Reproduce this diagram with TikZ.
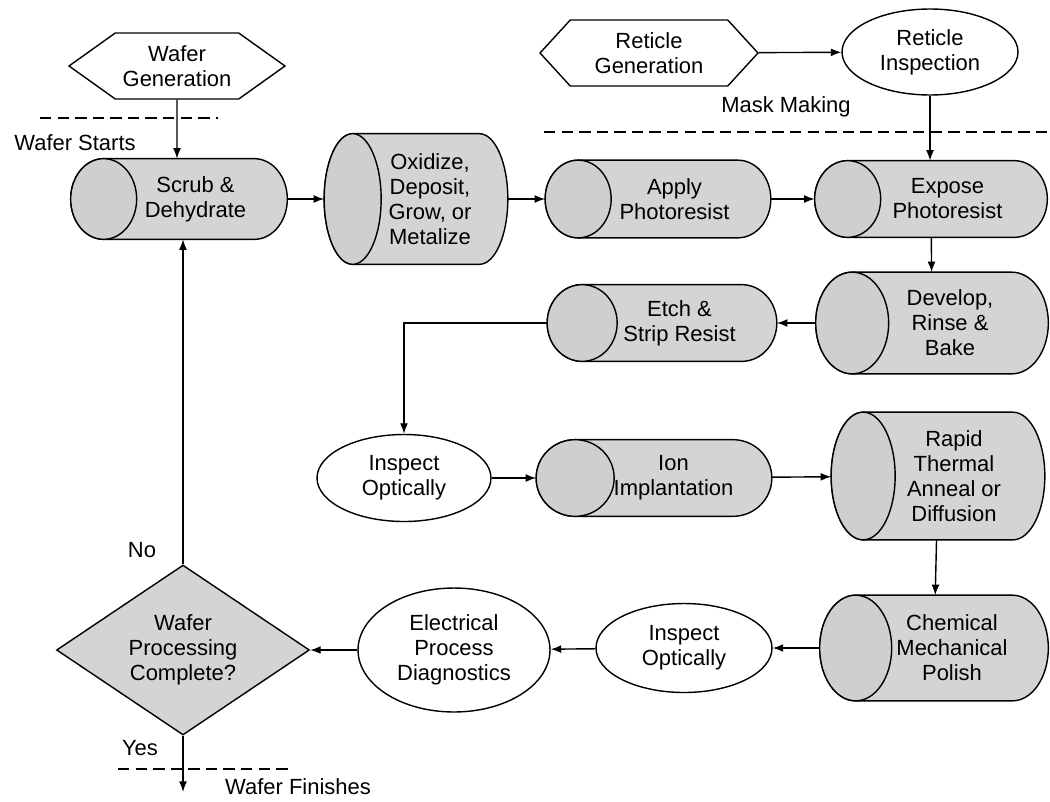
\documentclass[tikz,border=0pt]{standalone}
\usepackage{fontspec}
\setmainfont{Liberation Sans}
\usetikzlibrary{arrows.meta, positioning, shapes.geometric, shapes.symbols,
  calc, backgrounds}
\definecolor{procgray}{HTML}{D4D4D4}
\definecolor{endgray}{HTML}{CFCFCF}

\begin{document}
\begin{tikzpicture}[x=0.02cm, y=-0.02cm,
    font=\fontsize{12.5}{14.2}\selectfont,
    every node/.style={align=center, inner sep=0pt},
    tube/.style={rectangle},
    tubeline/.style={draw, line width=0.8pt, fill=procgray},
    tubetext/.style={align=center, xshift=#1},
    hexa/.style={signal, signal to=west and east, signal pointer angle=#1,
      draw, line width=0.8pt, fill=white},
    oval/.style={ellipse, draw, line width=0.8pt, fill=white},
    flow/.style={-{Latex[length=6pt,width=4.5pt]}, line width=0.8pt},
    divider/.style={line width=0.8pt, dash pattern=on 6.5pt off 3.5pt}]
  \useasboundingbox (0,0) rectangle (1050,801);
  % Sources
  \node[hexa=71, minimum width=4.32cm, minimum height=1.32cm] (wgen) at (177,66)
        {Wafer\\Generation};
  \node[hexa=95, minimum width=4.36cm, minimum height=1.32cm] (rgen) at (649,53)
        {Reticle\\Generation};
  \node[oval, minimum width=3.52cm, minimum height=1.72cm] (rinsp) at (930,52)
        {Reticle\\Inspection};
  % Process steps (tube outlines are drawn below)
  \node[tube, minimum width=4.32cm, minimum height=1.6cm,
        label={[tubetext=0.33cm]center:Scrub \&\\Dehydrate}] (scrub) at (179,199) {};
  \node[tube, minimum width=3.66cm, minimum height=2.6cm,
        label={[tubetext=0.28cm]center:{Oxidize,\\Deposit,\\Grow, or\\Metalize}}]
        (oxid) at (416,199) {};
  \node[tube, minimum width=4.5cm, minimum height=1.54cm,
        label={[tubetext=0.33cm]center:Apply\\Photoresist}] (apply) at (658,199) {};
  \node[tube, minimum width=4.64cm, minimum height=1.52cm,
        label={[tubetext=0.33cm]center:Expose\\Photoresist}] (expose) at (931,199) {};
  \node[tube, minimum width=4.64cm, minimum height=2.02cm,
        label={[tubetext=0.36cm]center:{Develop,\\Rinse \&\\Bake}}] (develop) at (932,323) {};
  \node[tube, minimum width=4.58cm, minimum height=1.52cm,
        label={[tubetext=0.35cm]center:Etch \&\\Strip Resist}] (etch) at (662,323) {};
  \node[oval, minimum width=3.48cm, minimum height=1.74cm] (insp1) at (404,478)
        {Inspect\\Optically};
  \node[tube, minimum width=4.7cm, minimum height=1.52cm,
        label={[tubetext=0.39cm]center:Ion\\Implantation}] (ion) at (654,478) {};
  \node[tube, minimum width=4.26cm, minimum height=2.54cm,
        label={[tubetext=0.32cm]center:Rapid\\Thermal\\Anneal or\\Diffusion}]
        (rapid) at (938,476) {};
  \node[tube, minimum width=4.56cm, minimum height=2.1cm,
        label={[tubetext=0.36cm]center:Chemical\\Mechanical\\Polish}] (chem) at (934,648) {};
  \node[oval, minimum width=3.52cm, minimum height=1.78cm] (insp2) at (684,648)
        {Inspect\\Optically};
  \node[oval, minimum width=3.84cm, minimum height=2.48cm] (elec) at (454,650)
        {Electrical\\Process\\Diagnostics};
  \node[diamond, draw, line width=0.8pt, fill=procgray, aspect=1.49,
        minimum width=5.06cm, minimum height=3.4cm] (done) at (183,650)
        {Wafer\\Processing\\Complete?};
  \coordinate (out) at (183,792);
  \begin{scope}[on background layer]
    \foreach \tb/\rr in {scrub/0.66cm, oxid/0.57cm, apply/0.66cm, expose/0.66cm,
                         develop/0.73cm, etch/0.7cm, ion/0.78cm, rapid/0.64cm,
                         chem/0.72cm} {
      \path[tubeline] let \p1=(\tb.north west), \p2=(\tb.south east),
                          \n1={0.5*(\y1-\y2)} in
        (\x1+\rr,\y1) -- (\x2-\rr,\y1)
        arc[start angle=90, end angle=-90, x radius=\rr, y radius=\n1]
        -- (\x1+\rr,\y2)
        arc[start angle=270, end angle=90, x radius=\rr, y radius=\n1] -- cycle;
      \path[tubeline, fill=endgray] let \p1=(\tb.north west), \p2=(\tb.south east),
                          \n1={0.5*(\y1-\y2)} in
        (\x1+\rr,{0.5*(\y1+\y2)}) ellipse[x radius=\rr, y radius=\n1];
    }
  \end{scope}
  % Dividers
  \draw[divider] (40,118) -- (218,118);
  \draw[divider] (544,132) -- (1047,132);
  \draw[divider] (118,769) -- (293,769);
  % Flow
  \draw[flow] (wgen) -- (wgen |- scrub.north);
  \draw[flow] (rgen) -- (rinsp);
  \draw[flow] (rinsp) -- (rinsp |- expose.north);
  \draw[flow] (scrub) -- (oxid);
  \draw[flow] (oxid) -- (apply);
  \draw[flow] (apply) -- (expose);
  \draw[flow] (expose) -- (develop);
  \draw[flow] (develop) -- (etch);
  \draw[flow] (etch.west) -| (insp1.north);
  \draw[flow] (insp1) -- (ion);
  \draw[flow] (ion) -- (rapid);
  \draw[flow] (rapid) -- (chem);
  \draw[flow] (chem) -- (insp2);
  \draw[flow] (insp2) -- (elec);
  \draw[flow] (elec) -- (done);
  \draw[flow] (done.north) -- (done.north |- scrub.south);
  \draw[flow] (done.south) -- (out);
  % Labels
  \node (starts) at (75,143) {Wafer Starts};
  \node (mask) at (786,107) {Mask Making};
  \node (no) at (142,550) {No};
  \node (yes) at (140,748) {Yes};
  \node (fin) at (298,787) {Wafer Finishes};
\end{tikzpicture}
\end{document}
